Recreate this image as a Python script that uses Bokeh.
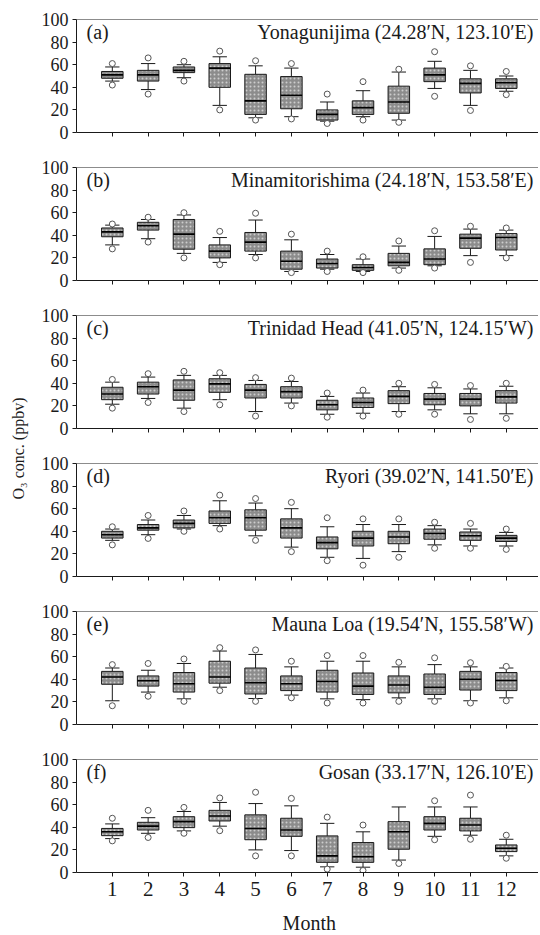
import math
from bokeh.plotting import figure
from bokeh.models import (Range1d, FixedTicker, Span, Label, ColumnDataSource,
                          CustomLabelingPolicy)
from bokeh.layouts import column, row
from bokeh.transform import dodge
from bokeh.embed import file_html
from bokeh.resources import INLINE
from bokeh.core.properties import value

NAN = float("nan")
MONTHS = [1, 2, 3, 4, 5, 6, 7, 8, 9, 10, 11, 12]
MONTH_LABELS = ["1", "2", "3", "4", "5", "6", "7", "8", "9", "10", "11", "12"]
Y_TICKS = [0, 20, 40, 60, 80, 100]

# (a) Yonagunijima
A_Q1 = [48, 45.5, 53, 40, 16, 21, 11, 16, 17, 45, 35, 39]
A_MED = [51, 51, 55, 57, 28, 33, 16, 22, 27, 51, 43.5, 44]
A_Q3 = [54, 55, 58, 61, 51.5, 49.5, 20, 28, 41, 57, 47.5, 47.5]
A_LO = [45.5, 38, 48.5, 24, 13, 14, 10, 14, 11, 39, 24, 36.5]
A_HI = [58, 61, 60, 67, 59, 57, 27, 37, 53.5, 63, 55, 50]
A_OLO = [42, 34, 45.5, 20, 11, 12, 8, 11, 9, 32, 19.5, 33.5]
A_OHI = [61, 66, 63, 72, 63.5, 61, 34, 45, 56, 71.5, 59, 54]

# (b) Minamitorishima
B_Q1 = [38.7, 44.6, 27.7, 20, 26, 10, 11, 9, 13, 14, 28.5, 27]
B_MED = [43, 48.5, 41, 26, 34, 17, 15, 11.5, 16, 19, 37.5, 38]
B_Q3 = [46.5, 51.5, 54, 31.5, 42.5, 26, 19, 14, 24, 28, 41, 41.5]
B_LO = [31.5, 37, 24, 16, 23, 8, 10, 8, 11, 13, 22, 22]
B_HI = [49, 54, 58, 38, 53.5, 36, 23, 19, 30.5, 39, 45.5, 44.6]
B_OLO = [28, 34, 20, 14, 20, 7, 8, 7, 9, 11, 16, 20]
B_OHI = [50, 56, 60, 43.5, 59.5, 41, 26, 21, 35, 44, 48, 46.5]

# (c) Trinidad Head
C_Q1 = [25.5, 30.5, 25, 32, 27, 27, 16.5, 18.6, 22, 21, 20, 22.5]
C_MED = [30.5, 37, 34, 39.5, 34, 32.6, 21, 23, 28.4, 26, 26, 28]
C_Q3 = [36.5, 41, 43, 44, 39, 37, 25, 27, 33.5, 31, 31, 33.5]
C_LO = [21.5, 26.6, 18, 25.5, 15, 22.5, 12.6, 13.5, 15, 16.5, 13, 13]
C_HI = [41, 45.5, 47, 47, 42.5, 41.6, 28.4, 31.4, 37, 36, 35, 37.4]
C_OLO = [18, 23, 15, 21, 11, 20, 10, 11, 12.6, 12.6, 8, 9]
C_OHI = [43.4, 48.5, 50.6, 49.4, 45, 44.6, 31.4, 34, 40, 39, 38, 40]

# (d) Ryori
D_Q1 = [34, 41, 43, 47, 41, 34, 24.5, 27, 29, 33, 32, 31]
D_MED = [37, 43, 47, 52, 52, 43, 30, 34, 35, 38, 36, 34]
D_Q3 = [40, 46, 50, 58, 59, 51, 35, 40, 40, 42, 39.4, 36.4]
D_LO = [32, 37, 42, 45, 36, 26, 17, 16, 22, 28, 27, 27]
D_HI = [42, 50, 54, 67, 65, 60, 44, 46, 46, 45, 42, 39]
D_OLO = [28, 33.7, 40, 42, 32, 22, 14, 10, 17, 25, 25, 24]
D_OHI = [44, 54, 58, 72, 69, 65.6, 52, 51, 51, 48, 47, 42]

# (e) Mauna Loa
E_Q1 = [35.6, 34, 28.7, 36.6, 27, 30, 28.7, 26.6, 28, 26.6, 30.5, 30]
E_MED = [42, 38.7, 36, 42, 37, 36, 38, 34, 35, 33, 40, 39]
E_Q3 = [47, 43, 46, 56, 50, 43, 48, 45.6, 43, 44.7, 47, 46]
E_LO = [21, 28.7, 22.7, 33, 23, 26, 22.7, 22, 23.6, 22.7, 21, 23.6]
E_HI = [50, 48, 54, 65, 62, 51, 56, 56, 51, 53, 51, 50]
E_OLO = [16.6, 25, 20.5, 30, 20.5, 23.6, 19, 19, 20.5, 20.5, 19, 21]
E_OHI = [53, 54, 58, 68, 66, 56, 61, 61, 55, 59, 54.7, 51.4]

# (f) Gosan
F_Q1 = [32.6, 37.6, 39.7, 45.6, 29, 32, 9, 9, 20.6, 37.6, 36.8, 18.5]
F_MED = [36, 41, 45, 50, 39, 37.6, 14.7, 14, 36, 43.5, 42, 21.5]
F_Q3 = [39, 44.4, 49.4, 55, 51, 48, 32.4, 26.5, 45, 49.4, 48, 24.4]
F_LO = [30, 34.7, 36.8, 41, 20, 19.4, 5, 4.7, 11, 32, 33, 14.7]
F_HI = [43, 48.5, 54, 62, 61, 59, 43.5, 36, 58, 58, 58, 29.4]
F_OLO = [28, 31, 34.7, 37, 14.7, 14.7, 3, 1.8, 8, 29, 29.4, 12.6]
F_OHI = [48, 55, 57.6, 66, 71, 65.6, 49, 42, NAN, 63.5, 68.5, 33]

PANEL_LETTERS = ["(a)", "(b)", "(c)", "(d)", "(e)", "(f)"]
STATION_NAMES = [
    "Yonagunijima (24.28′N, 123.10′E)",
    "Minamitorishima (24.18′N, 153.58′E)",
    "Trinidad Head (41.05′N, 124.15′W)",
    "Ryori (39.02′N, 141.50′E)",
    "Mauna Loa (19.54′N, 155.58′W)",
    "Gosan (33.17′N, 126.10′E)",
]
SERIES = [
    (A_Q1, A_MED, A_Q3, A_LO, A_HI, A_OLO, A_OHI),
    (B_Q1, B_MED, B_Q3, B_LO, B_HI, B_OLO, B_OHI),
    (C_Q1, C_MED, C_Q3, C_LO, C_HI, C_OLO, C_OHI),
    (D_Q1, D_MED, D_Q3, D_LO, D_HI, D_OLO, D_OHI),
    (E_Q1, E_MED, E_Q3, E_LO, E_HI, E_OLO, E_OHI),
    (F_Q1, F_MED, F_Q3, F_LO, F_HI, F_OLO, F_OHI),
]
Y_LABEL = "O₃ conc. (ppbv)"
X_LABEL = "Month"

FONT = "Liberation Serif"
INK = "#1a1a1a"
LABEL_W = 36
BORDER_L = 40
FRAME_W = 462
FRAME_H = 113
TOP_B = 19
BOT_B = 16
LAST_BOT_B = 40
MONTH_H = 21
TOTAL_H = 932


def make_panel(i, last):
    q1, med, q3, lo, hi, olo, ohi = SERIES[i]
    src = ColumnDataSource(dict(x=MONTHS, q1=q1, med=med, q3=q3, lo=lo, hi=hi,
                                olo=olo, ohi=ohi))
    p = figure(frame_width=FRAME_W, frame_height=FRAME_H,
               x_range=Range1d(0, 12.9), y_range=Range1d(0, 100),
               output_backend="svg", toolbar_location=None,
               min_border_left=BORDER_L, min_border_right=0,
               min_border_top=TOP_B,
               min_border_bottom=LAST_BOT_B if last else BOT_B)
    p.outline_line_color = None
    p.grid.visible = False

    p.yaxis.ticker = FixedTicker(ticks=Y_TICKS)
    p.xaxis.ticker = FixedTicker(ticks=MONTHS)
    for ax in (p.xaxis[0], p.yaxis[0]):
        ax.major_tick_out = 4
        ax.major_tick_in = 0
        ax.minor_tick_out = 0
        ax.minor_tick_in = 0
        ax.axis_line_color = INK
        ax.major_tick_line_color = INK
        ax.major_label_text_font = FONT
        ax.major_label_text_color = INK
    p.yaxis.major_label_text_font_size = "18px"
    p.yaxis.major_label_standoff = 4
    if last:
        p.xaxis.major_label_overrides = {m: l for m, l in zip(MONTHS, MONTH_LABELS)}
        p.xaxis.major_label_text_font_size = "21px"
        p.xaxis.major_label_standoff = 5
    else:
        p.xaxis.major_label_policy = CustomLabelingPolicy(code="return []")
        p.xaxis.major_label_standoff = 0

    p.add_layout(Span(location=100, dimension="width", line_color=INK, line_width=1))

    # whiskers and caps
    p.segment(x0="x", y0="q3", x1="x", y1="hi", source=src, line_color=INK, line_width=1)
    p.segment(x0="x", y0="q1", x1="x", y1="lo", source=src, line_color=INK, line_width=1)
    p.segment(x0=dodge("x", -0.2), y0="hi", x1=dodge("x", 0.2), y1="hi",
              source=src, line_color=INK, line_width=1)
    p.segment(x0=dodge("x", -0.2), y0="lo", x1=dodge("x", 0.2), y1="lo",
              source=src, line_color=INK, line_width=1)
    # boxes
    p.vbar(x="x", width=0.6, bottom="q1", top="q3", source=src,
           fill_color="#8c8c8c", line_color=INK, line_width=1,
           hatch_pattern="dot", hatch_color="#cdcdcd", hatch_scale=4, hatch_weight=1)
    # medians
    p.segment(x0=dodge("x", -0.3), y0="med", x1=dodge("x", 0.3), y1="med",
              source=src, line_color="black", line_width=1.6)
    # min / max points
    for col in ("olo", "ohi"):
        p.scatter(x="x", y=col, source=src, marker="circle", size=6,
                  fill_color="white", line_color="#555555", line_width=1)

    p.add_layout(Label(x=0.28, y=88.5, text=PANEL_LETTERS[i], text_font=FONT,
                       text_font_size="20px", text_align="left",
                       text_baseline="middle", text_color=INK))
    p.add_layout(Label(x=12.76, y=88.5, text=STATION_NAMES[i], text_font=FONT,
                       text_font_size="20px", text_align="right",
                       text_baseline="middle", text_color=INK))
    return p


panels = [make_panel(i, i == 5) for i in range(6)]

month_fig = figure(width=BORDER_L + FRAME_W, height=MONTH_H,
                   x_range=Range1d(0, 12.9), y_range=Range1d(0, MONTH_H),
                   output_backend="svg", toolbar_location=None, min_border=0,
                   min_border_left=BORDER_L)
month_fig.axis.visible = False
month_fig.grid.visible = False
month_fig.outline_line_color = None
month_fig.text(x=[6.5], y=[MONTH_H / 2], text=[X_LABEL], text_align="center",
               text_baseline="middle", text_font=value(FONT),
               text_font_size="20px", text_color=INK)

lab = figure(width=LABEL_W, height=TOTAL_H, x_range=Range1d(0, LABEL_W),
             y_range=Range1d(0, TOTAL_H), output_backend="svg",
             toolbar_location=None, min_border=0)
lab.axis.visible = False
lab.grid.visible = False
lab.outline_line_color = None
lab.text(x=[18], y=[TOTAL_H - 448], text=[Y_LABEL], angle=math.pi / 2,
         text_align="center", text_baseline="middle", text_font=value(FONT),
         text_font_size="16px", text_color=INK)

layout = row(lab, column(*panels, month_fig, spacing=0), spacing=0)

open("out.html", "w").write(file_html(layout, INLINE))
